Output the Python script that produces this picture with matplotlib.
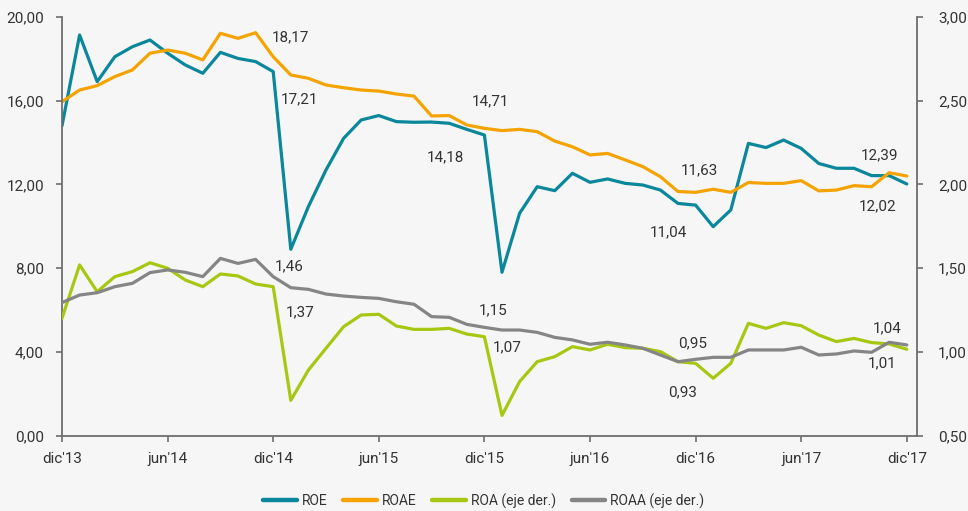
import numpy as np
import matplotlib
matplotlib.use("Agg")
import matplotlib.pyplot as plt
from matplotlib.ticker import FuncFormatter

plt.rcParams["font.family"] = ["Roboto", "DejaVu Sans"]

# monthly series, dic'13 .. dic'17
months = np.arange(49)
tick_pos = [0, 6, 12, 18, 24, 30, 36, 42, 48]
tick_labels = ["dic'13", "jun'14", "dic'14", "jun'15", "dic'15", "jun'16", "dic'16", "jun'17", "dic'17"]

roe = [14.8, 19.14, 16.91, 18.1, 18.58, 18.9, 18.27, 17.71, 17.31, 18.31, 18.02, 17.87, 17.39,
       8.9, 10.94, 12.69, 14.2, 15.08, 15.29, 15.0, 14.97, 14.98, 14.92, 14.63, 14.36,
       7.8, 10.62, 11.89, 11.7, 12.53, 12.1, 12.26, 12.05, 11.97, 11.73, 11.09, 11.01,
       9.98, 10.78, 13.96, 13.76, 14.12, 13.72, 13.0, 12.77, 12.77, 12.42, 12.42, 12.02]
roae = [15.95, 16.51, 16.72, 17.15, 17.47, 18.27, 18.42, 18.27, 17.95, 19.22, 18.98, 19.25, 18.1,
        17.23, 17.07, 16.75, 16.62, 16.51, 16.46, 16.32, 16.22, 15.27, 15.29, 14.84, 14.68,
        14.57, 14.63, 14.52, 14.07, 13.8, 13.41, 13.48, 13.17, 12.85, 12.37, 11.66, 11.62,
        11.77, 11.62, 12.09, 12.05, 12.05, 12.18, 11.69, 11.73, 11.94, 11.89, 12.56, 12.4]
roa = [1.2, 1.519, 1.359, 1.449, 1.479, 1.532, 1.499, 1.429, 1.389, 1.465, 1.453, 1.405, 1.389,
       0.71, 0.891, 1.021, 1.15, 1.22, 1.224, 1.154, 1.134, 1.134, 1.14, 1.106, 1.09,
       0.62, 0.822, 0.941, 0.971, 1.031, 1.011, 1.045, 1.025, 1.021, 1.001, 0.941, 0.931,
       0.842, 0.931, 1.17, 1.14, 1.174, 1.156, 1.1, 1.061, 1.08, 1.055, 1.047, 1.015]
roaa = [1.294, 1.339, 1.353, 1.389, 1.409, 1.473, 1.489, 1.475, 1.449, 1.558, 1.528, 1.552, 1.449,
        1.383, 1.373, 1.345, 1.333, 1.325, 1.319, 1.299, 1.284, 1.21, 1.206, 1.164, 1.146,
        1.13, 1.13, 1.116, 1.086, 1.071, 1.045, 1.057, 1.041, 1.021, 0.981, 0.941, 0.955,
        0.967, 0.967, 1.011, 1.011, 1.011, 1.027, 0.981, 0.987, 1.005, 0.997, 1.057, 1.041]

# (text, series, month, dx, dy) in pixels
labels_left = [("18,17", "roae", 12, 17, 19), ("17,21", "roe", 12, 26, -28),
               ("14,71", "roae", 24, 6, 27), ("14,18", "roe", 24, -39, -22),
               ("11,63", "roae", 36, 4, 22), ("11,04", "roe", 36, -27, -27),
               ("12,39", "roae", 48, -27, 21), ("12,02", "roe", 48, -29, -22)]
labels_right = [("1,46", "roaa", 12, 16, 10), ("1,37", "roa", 12, 27, -26),
                ("1,15", "roaa", 24, 9, 17), ("1,07", "roa", 24, 23, -11),
                ("0,95", "roaa", 36, -3, 16), ("0,93", "roa", 36, -13, -29),
                ("1,04", "roaa", 48, -20, 17), ("1,01", "roa", 48, -25, -14)]

C_ROE, C_ROAE, C_ROA, C_ROAA = "#0a879b", "#f5a300", "#a6c813", "#858585"
BG = "#f6f6f6"
AX = "#6e6e6e"
TXT = "#333333"

fig = plt.figure(figsize=(9.68, 5.11), dpi=100, facecolor=BG)
ax = fig.add_axes([62 / 968, 1 - 435.5 / 511, (917 - 62) / 968, (435.5 - 17) / 511])
ax.set_facecolor(BG)
ax2 = ax.twinx()

style = dict(lw=2.3, solid_capstyle="round", solid_joinstyle="round")
l1, = ax.plot(months, roe, color=C_ROE, label="ROE", **style)
l2, = ax.plot(months, roae, color=C_ROAE, label="ROAE", **style)
l3, = ax2.plot(months, roa, color=C_ROA, label="ROA (eje der.)", **style)
l4, = ax2.plot(months, roaa, color=C_ROAA, label="ROAA (eje der.)", **style)

ax.set_xlim(0, 48.58)
ax.set_ylim(0, 20)
ax2.set_ylim(0.5, 3.0)
ax.set_yticks(np.arange(0, 20.1, 4))
ax2.set_yticks(np.arange(0.5, 3.01, 0.5))
ax.set_xticks(tick_pos)
ax.set_xticklabels(tick_labels)
fmt = FuncFormatter(lambda v, p: f"{v:.2f}".replace(".", ","))
ax.yaxis.set_major_formatter(fmt)
ax2.yaxis.set_major_formatter(fmt)

for a in (ax, ax2):
    a.spines["top"].set_visible(False)
    for s in a.spines.values():
        s.set_color(AX)
        s.set_linewidth(1.3)
    a.tick_params(colors=AX, labelcolor=TXT, labelsize=11, length=4, width=1.2, direction="out")
ax.spines["right"].set_visible(False)
ax2.spines["left"].set_visible(False)
ax2.spines["bottom"].set_visible(False)
ax.tick_params(axis="y", pad=9)
ax2.tick_params(axis="y", pad=11)
ax.tick_params(axis="x", pad=8)

series = {"roe": roe, "roae": roae, "roa": roa, "roaa": roaa}
for txt, key, m, dx, dy in labels_left:
    ax.annotate(txt, (m, series[key][m]), xytext=(dx, dy), textcoords="offset pixels",
                ha="center", va="center", fontsize=11, color=TXT)
for txt, key, m, dx, dy in labels_right:
    ax2.annotate(txt, (m, series[key][m]), xytext=(dx, dy), textcoords="offset pixels",
                 ha="center", va="center", fontsize=11, color=TXT)

fig.legend(handles=[l1, l2, l3, l4], loc="center", bbox_to_anchor=(484 / 968, 1 - 501 / 511),
           ncol=4, frameon=False, fontsize=10, handlelength=2.4, columnspacing=1.1,
           handletextpad=0.4, labelcolor=TXT)
for h in fig.legends[0].legend_handles:
    h.set_linewidth(3.2)

fig.savefig("out.png", dpi=100, facecolor=BG)
